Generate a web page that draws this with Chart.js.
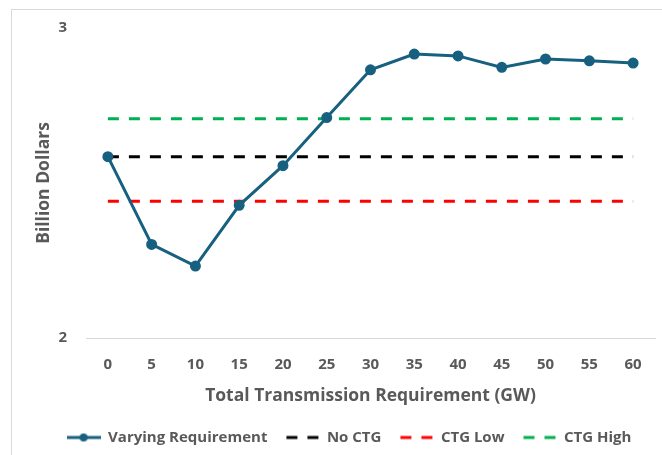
<!DOCTYPE html>
<html lang="en">
<head>
  <meta charset="UTF-8" />
  <title>Transmission Requirement</title>
  <script src="https://cdn.jsdelivr.net/npm/chart.js"></script>
  <style>
    html, body { margin: 0; padding: 0; background: #fff; overflow: hidden; width: 662px; height: 455px; }
    .frame {
      position: absolute; left: 11px; top: 9px; width: 651px; height: 446px;
      border-left: 1px solid #d9d9d9; border-top: 1px solid #d9d9d9; box-sizing: border-box;
    }
    .wrap { position: absolute; left: 0; top: 0; width: 662px; height: 455px; }
  </style>
</head>
<body>
  <div class="frame"></div>
  <div class="wrap"><canvas id="grafico"></canvas></div>

  <script>
    const categories = ['0', '5', '10', '15', '20', '25', '30', '35', '40', '45', '50', '55', '60'];
    const varying = [2.585, 2.302, 2.232, 2.428, 2.556, 2.711, 2.865, 2.916, 2.910, 2.873, 2.900, 2.894, 2.887];
    const noCtg = 2.585;
    const ctgLow = 2.441;
    const ctgHigh = 2.707;
    const yTicks = [2, 3];

    const gray = '#595959';
    const font = "'Open Sans', sans-serif";

    // small legend swatches
    function swatch(color, dashed) {
      const c = document.createElement('canvas');
      c.width = 34; c.height = 12;
      const g = c.getContext('2d');
      g.strokeStyle = color; g.lineWidth = 3;
      if (dashed) g.setLineDash([11, 10]);
      g.beginPath(); g.moveTo(dashed ? 1 : 0, 6); g.lineTo(34, 6); g.stroke();
      if (!dashed) {
        g.fillStyle = color;
        g.beginPath(); g.arc(17, 6, 4, 0, Math.PI * 2); g.fill();
      }
      return c;
    }

    const flat = v => categories.map(() => v);

    new Chart(document.getElementById('grafico'), {
      type: 'line',
      data: {
        labels: categories,
        datasets: [
          { label: 'Varying Requirement', data: varying, borderColor: '#17607f', backgroundColor: '#17607f',
            borderWidth: 3, pointRadius: 4, pointHoverRadius: 4, tension: 0, swatch: swatch('#17607f', false) },
          { label: 'No CTG', data: flat(noCtg), borderColor: '#000', borderWidth: 3, borderDash: [11, 10],
            pointRadius: 0, swatch: swatch('#000', true) },
          { label: 'CTG Low', data: flat(ctgLow), borderColor: '#ff0000', borderWidth: 3, borderDash: [11, 10],
            pointRadius: 0, swatch: swatch('#ff0000', true) },
          { label: 'CTG High', data: flat(ctgHigh), borderColor: '#00b050', borderWidth: 3, borderDash: [11, 10],
            pointRadius: 0, swatch: swatch('#00b050', true) }
        ]
      },
      options: {
        responsive: true,
        maintainAspectRatio: false,
        animation: false,
        layout: { padding: { left: 34, right: -2, top: 28, bottom: 0 } },
        scales: {
          x: {
            offset: true,
            grid: { display: false },
            border: { color: '#d9d9d9', width: 1 },
            ticks: { color: gray, font: { family: font, size: 15, weight: 'bold' }, padding: 10 },
            title: { display: true, text: 'Total Transmission Requirement (GW)', color: gray,
                     font: { family: font, size: 17.5, weight: 'bold' }, padding: { top: 2, bottom: 5 } }
          },
          y: {
            min: 2, max: 3,
            afterBuildTicks: axis => { axis.ticks = yTicks.map(v => ({ value: v })); },
            afterFit: axis => { axis.width = 52; },
            grid: { display: false, drawTicks: false },
            border: { display: false },
            ticks: { color: gray, font: { family: font, size: 15, weight: 'bold' }, padding: 19 },
            title: { display: true, text: 'Billion Dollars', color: gray,
                     font: { family: font, size: 17.5, weight: 'bold' }, padding: { top: 0, bottom: 0 } }
          }
        },
        plugins: {
          legend: {
            position: 'bottom',
            labels: {
              color: gray,
              font: { family: font, size: 15, weight: 'bold' },
              usePointStyle: true,
              pointStyleWidth: 34,
              padding: 18,
              generateLabels: chart => chart.data.datasets.map((ds, i) => ({
                text: ds.label, fontColor: gray, pointStyle: ds.swatch, datasetIndex: i,
                lineWidth: 0, strokeStyle: ds.borderColor, fillStyle: ds.borderColor
              }))
            }
          },
          tooltip: { enabled: false }
        }
      }
    });
  </script>
</body>
</html>
